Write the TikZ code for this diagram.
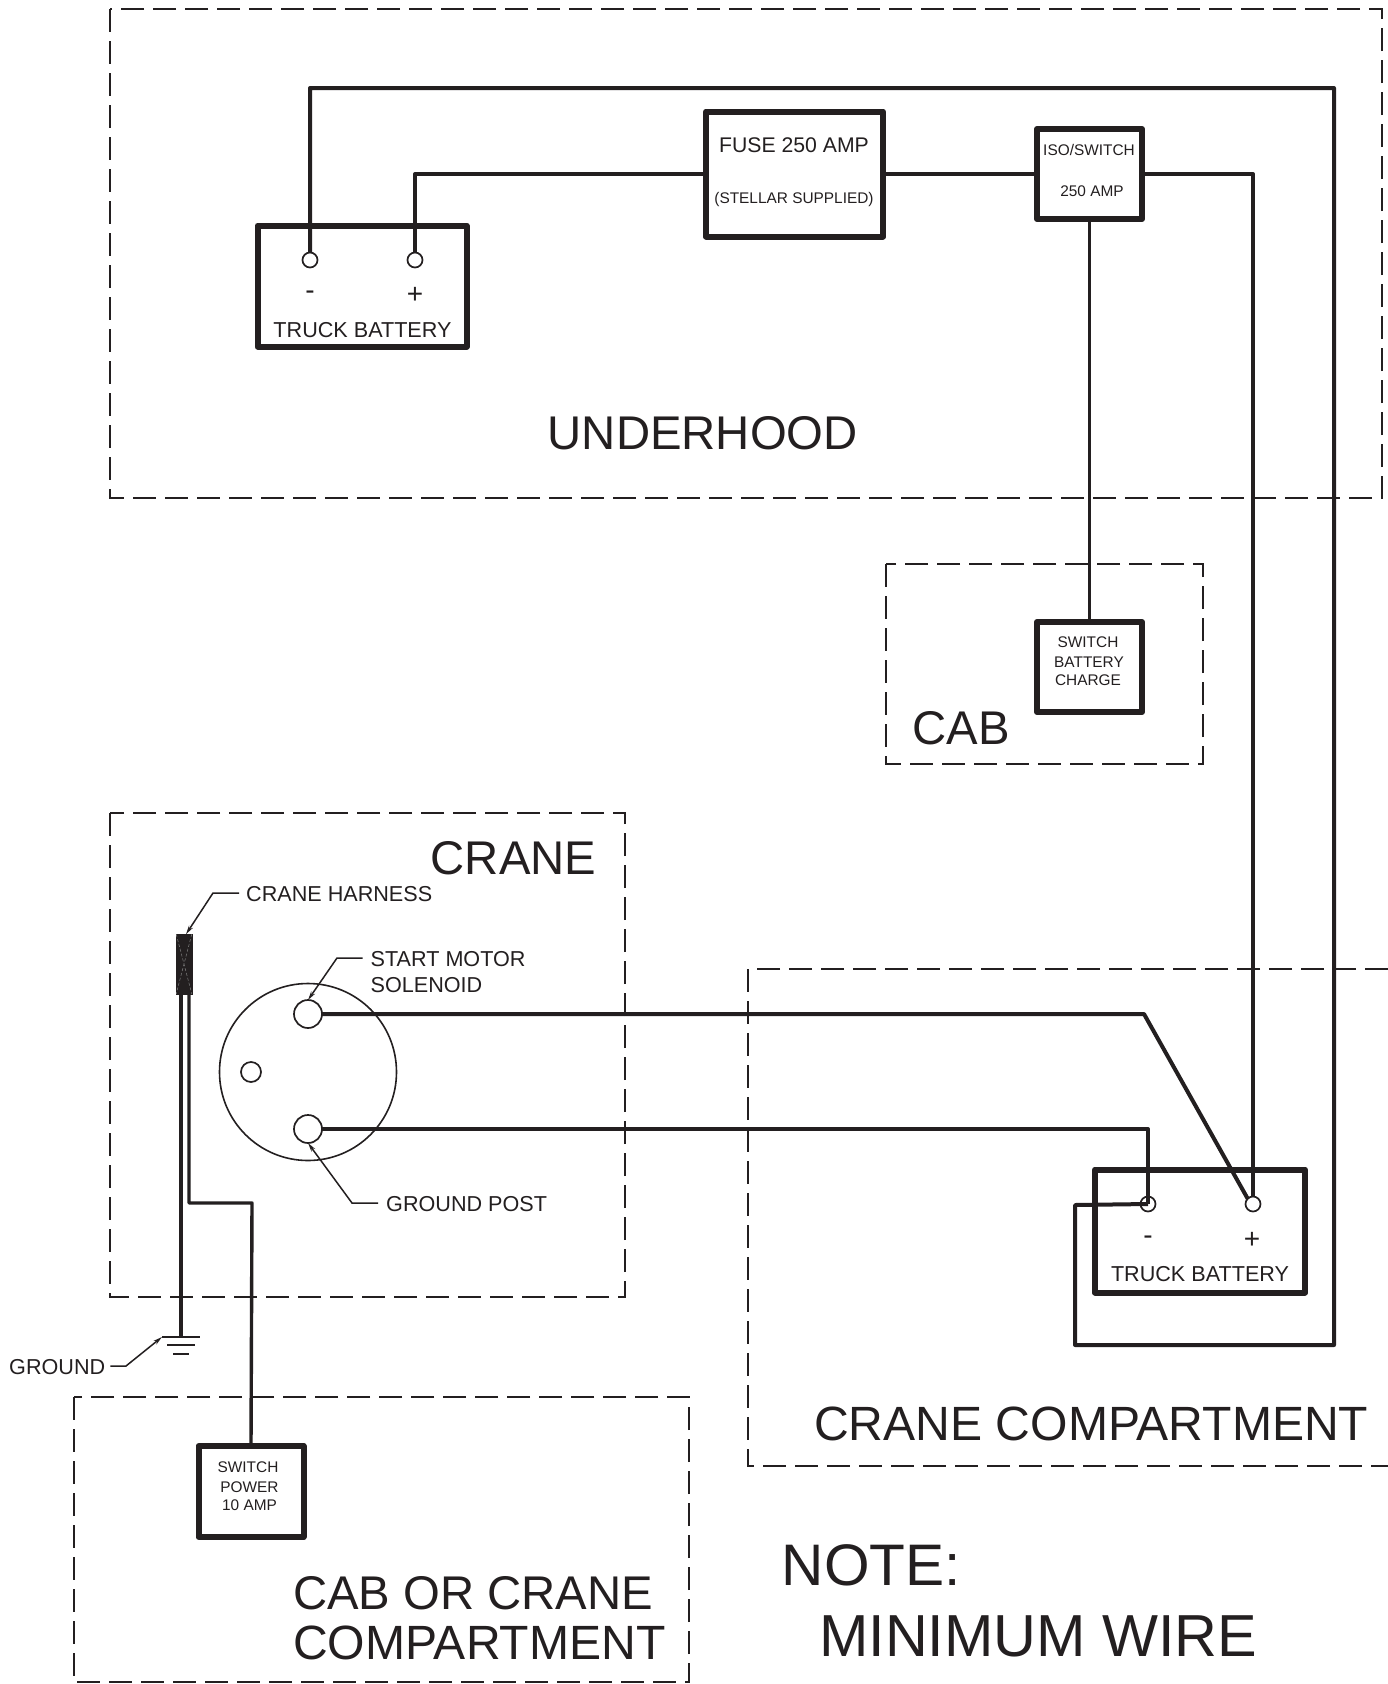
\documentclass[tikz,border=0pt]{standalone}
\usepackage{fontspec}
\setmainfont{Liberation Sans}
\usetikzlibrary{arrows.meta}
\definecolor{ink}{HTML}{231F20}
\tikzset{
  zone/.style={draw=ink,line width=1.5pt,dash pattern=on 23pt off 9pt},
  box/.style={draw=ink,line width=6pt,line join=round,rectangle,inner sep=0pt,outer sep=0pt},
  wire/.style={draw=ink,line width=4pt,line join=round},
  terminal/.style={draw=ink,line width=1.7pt,circle,inner sep=0pt,outer sep=0pt,minimum size=15pt},
  post/.style={draw=ink,line width=1.7pt,circle,inner sep=0pt,outer sep=0pt,fill=white},
  leader/.style={draw=ink,line width=1.5pt,-{Stealth[length=9pt,width=4.5pt]}},
  huge label/.style={text=ink,inner sep=0pt,anchor=west,font=\fontsize{47.3}{48}\selectfont},
  note label/.style={text=ink,inner sep=0pt,anchor=west,font=\fontsize{58.6}{59}\selectfont},
  mid label/.style={text=ink,inner sep=0pt,font=\fontsize{21.6}{22}\selectfont},
  sign label/.style={text=ink,inner sep=0pt,font=\fontsize{28}{28}\selectfont},
  small label/.style={text=ink,inner sep=0pt,font=\fontsize{15.4}{16}\selectfont},
}
\begin{document}
\begin{tikzpicture}[x=1pt,y=-1pt]
\useasboundingbox[fill=white] (0,0) rectangle (1388,1684);

% dashed zones
\draw[zone] (110,9) rectangle (1382,498);
\draw[zone] (886,564) rectangle (1203,764);
\draw[zone] (110,813) rectangle (625,1297);
\draw[zone] (74,1397) rectangle (689,1682);
\draw[zone] (1388,969) -- (748,969) -- (748,1466) -- (1388,1466);

% boxes
\node[box,minimum width=209pt,minimum height=121pt] (bat1) at (362,286) {};
\node[box,minimum width=177pt,minimum height=125pt] (fuse) at (794.5,174) {};
\node[box,minimum width=105pt,minimum height=90pt] (iso) at (1089.5,174) {};
\node[box,minimum width=105pt,minimum height=90pt] (swb) at (1089.5,667) {};
\node[box,minimum width=105pt,minimum height=91pt] (swp) at (251,1491.5) {};
\node[box,minimum width=210pt,minimum height=123pt] (bat2) at (1200,1231) {};

% terminals
\node[terminal] (t1) at (310,260) {};
\node[terminal] (t2) at (415,260) {};
\node[terminal] (t3) at (1148,1204) {};
\node[terminal] (t4) at (1253,1204) {};

% solenoid
\node[post,line width=1.6pt,minimum size=177pt,fill=none] (sol) at (308,1072) {};
\node[post,minimum size=28pt] (s1) at (308,1014) {};
\node[post,minimum size=28pt] (s2) at (308,1129) {};
\node[post,minimum size=20pt] (s3) at (251,1072) {};

% harness
\node[fill=ink,draw=ink,line width=0.5pt,minimum width=15.5pt,minimum height=59.5pt,inner sep=0pt,outer sep=0pt] (har) at (184,964) {};
\draw[gray,line width=0.5pt,densely dashed] (har.north west) -- (har.south east) (har.north east) -- (har.south west);

% junction points
\coordinate (a1) at (1334,88);
\coordinate (a2) at (1334,1345);
\coordinate (a3) at (1075,1345);
\coordinate (a4) at (1075,1205);
\coordinate (b1) at (1253,174);
\coordinate (c1) at (1144,1014);
\coordinate (d1) at (1148,1129);
\coordinate (g0) at (181,1337);
\coordinate (g1l) at (162,1337);
\coordinate (g1r) at (200,1337);
\coordinate (g2l) at (167,1345);
\coordinate (g2r) at (195,1345);
\coordinate (g3l) at (173,1354);
\coordinate (g3r) at (189,1354);
\coordinate (h1) at (252,1203);

% wires
\draw[wire] (t1.north) |- (a1) -- (a2) -- (a3) -- (a4) -- (t3.center);
\draw[wire] (t2.north) |- (fuse.west);
\draw[wire] (fuse.east) -- (iso.west);
\draw[wire] (iso.east) -- (b1) -- (t4.north);
\draw[wire,line width=3pt] (iso.south) -- (swb.north);
\draw[wire] (s1.east) -- (c1) -- (t4.135);
\draw[wire] (s2.east) -- (d1) -- (t3.center);
\draw[wire,line width=3.4pt] ([xshift=-3pt]har.south) -- (g0);
\draw[wire,line width=3.4pt] ([xshift=5pt]har.south) |- (h1) -- (swp.north);

% ground symbol
\draw[ink,line width=1.8pt] (g1l) -- (g1r) (g2l) -- (g2r) (g3l) -- (g3r);

% text in boxes
\node[mid label] (tb1) at (362.5,330.5) {TRUCK BATTERY};
\node[sign label] (tm1) at (310,295) {-};
\node[sign label] (tp1) at (415,295) {+};
\node[mid label] (tb2) at (1200,1274.5) {TRUCK BATTERY};
\node[sign label] (tm2) at (1148,1240) {-};
\node[sign label] (tp2) at (1252,1240) {+};
\node[mid label,font=\fontsize{21.2}{22}\selectfont] (f1) at (794,145) {FUSE 250 AMP};
\node[small label] (f2) at (794,200) {(STELLAR SUPPLIED)};
\node[small label] (i1) at (1089,150) {ISO/SWITCH};
\node[small label] (i2) at (1092,191.5) {250 AMP};
\node[small label] (b1t) at (1088,642) {SWITCH};
\node[small label] (b2t) at (1089,662.5) {BATTERY};
\node[small label] (b3t) at (1088,680.5) {CHARGE};
\node[small label] (p1t) at (248,1467) {SWITCH};
\node[small label] (p2t) at (249.5,1487) {POWER};
\node[small label] (p3t) at (249.5,1505) {10 AMP};

% zone titles
\node[huge label] (l1) at (547.5,433) {UNDERHOOD};
\node[huge label] (l2) at (912.5,728) {CAB};
\node[huge label] (l3) at (430.5,858) {CRANE};
\node[huge label,font=\fontsize{48.1}{48}\selectfont] (l4) at (814,1423.5) {CRANE COMPARTMENT};
\node[huge label] (l5) at (293,1593.5) {CAB OR CRANE};
\node[huge label,font=\fontsize{48.1}{48}\selectfont] (l6) at (293,1643) {COMPARTMENT};
\node[note label] (n1) at (781.5,1565) {NOTE:};
\node[note label,font=\fontsize{59.3}{60}\selectfont] (n2) at (819,1636) {MINIMUM WIRE};

% callouts
\node[mid label,anchor=west] (ch) at (246,894.5) {CRANE HARNESS};
\node[mid label,anchor=west] (sm1) at (370.5,959.5) {START MOTOR};
\node[mid label,anchor=west] (sm2) at (370.5,985.5) {SOLENOID};
\node[mid label,anchor=west] (gp) at (386,1204) {GROUND POST};
\node[mid label,anchor=west] (gr) at (9,1367) {GROUND};
\draw[leader] (ch.west) ++(-7,-1.5) -- (213,893) -- (har.north -| 186,0);
\draw[leader] (sm1.west) ++(-8,-1.5) -- (337,958) -- (s1.north);
\draw[leader] (gp.west) ++(-8,-1) -- (352,1203) -- (s2.south);
\draw[leader] (gr.east) ++(5,-1) -- (126,1366) -- (g1l);
\end{tikzpicture}
\end{document}
